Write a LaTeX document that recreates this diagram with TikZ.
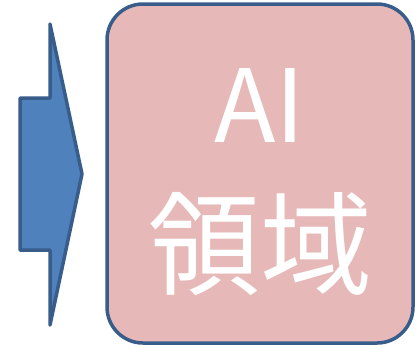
\documentclass[tikz,border=0pt]{standalone}
\usepackage{fontspec}
\newfontfamily\cjk{Noto Sans CJK JP}
\definecolor{arrblue}{RGB}{79,129,189}
\definecolor{edgeblue}{RGB}{56,93,138}
\definecolor{boxpink}{RGB}{230,185,184}
\usetikzlibrary{positioning}

\begin{document}
\begin{tikzpicture}[
      x=1pt, y=-1pt,
      field/.style={draw=edgeblue, fill=boxpink, line width=3.5pt, rounded corners=36pt, minimum width=306pt, minimum height=339pt, inner sep=0pt},
      big/.style={text=white, font=\cjk\fontsize{101}{101}\selectfont, inner sep=0pt, anchor=base},
      bigcjk/.style={text=white, font=\cjk\fontsize{112}{112}\selectfont, inner sep=0pt, anchor=base}
    ]
      \useasboundingbox (0,0) rectangle (417,349);
      % arrow on the left
      \draw[draw=edgeblue, fill=arrblue, line width=3.5pt, line join=round]
        (20,98) -- (50,98) -- (50,24) -- (82,174) -- (50,325) -- (50,250) -- (20,250) -- cycle;
      \node[field] (box) at (260,173.5) {};
      \node[big] (ai) at (260,142) {AI};
      \node[bigcjk] (ryoiki) at (260,286) {領域};
    \end{tikzpicture}
\end{document}
